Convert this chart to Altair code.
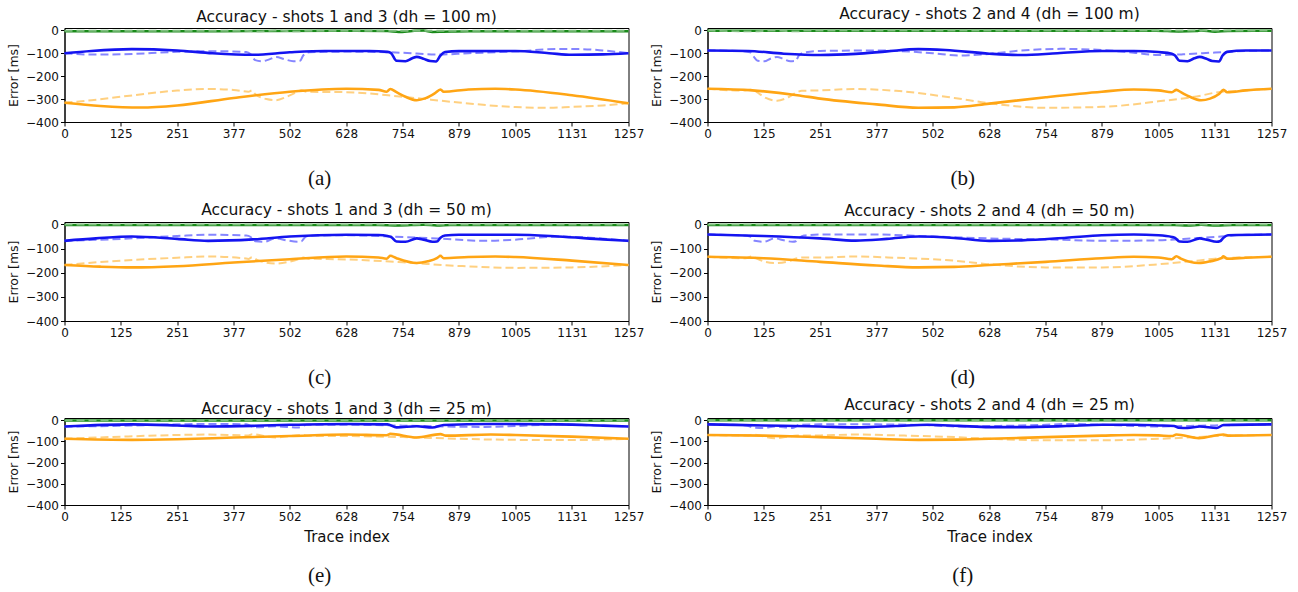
import altair as alt
import pandas as pd

X_TICKS = [0, 125, 251, 377, 502, 628, 754, 879, 1005, 1131, 1257]
Y_TICKS = [-400, -300, -200, -100, 0]

TITLES = [
    "Accuracy - shots 1 and 3 (dh = 100 m)",
    "Accuracy - shots 2 and 4 (dh = 100 m)",
    "Accuracy - shots 1 and 3 (dh = 50 m)",
    "Accuracy - shots 2 and 4 (dh = 50 m)",
    "Accuracy - shots 1 and 3 (dh = 25 m)",
    "Accuracy - shots 2 and 4 (dh = 25 m)",
]
CAPTIONS = ["(a)", "(b)", "(c)", "(d)", "(e)", "(f)"]

# ---- panel (a) ----
A_GREEN = [(0, -4), (300, -4), (420, -3), (600, -2), (720, -3), (745, -7), (775, -3), (800, -1), (820, -7), (845, -6), (900, -4), (1257, -4)]
A_GREEN_D = [(0, -2), (400, -2), (430, -5), (470, -1), (520, -5), (540, -2), (1257, -2)]
A_BLUE = [(0, -100), (60, -90), (150, -82), (251, -88), (330, -100), (420, -107), (502, -96), (580, -90), (680, -90), (720, -94), (728, -100), (740, -133), (760, -135), (775, -122), (785, -116), (800, -124), (815, -134), (828, -136), (838, -110), (848, -95), (879, -91), (1005, -90), (1080, -100), (1131, -107), (1200, -105), (1257, -100)]
A_BLUE_D = [(0, -100), (60, -106), (125, -105), (251, -94), (330, -91), (405, -95), (415, -105), (425, -130), (440, -135), (455, -128), (472, -116), (490, -126), (510, -135), (525, -133), (532, -110), (545, -96), (628, -93), (754, -98), (830, -106), (900, -100), (1005, -92), (1100, -82), (1150, -82), (1200, -88), (1257, -100)]
A_ORANGE = [(0, -316), (80, -330), (170, -337), (251, -328), (377, -295), (502, -268), (628, -255), (700, -260), (718, -268), (726, -256), (740, -270), (760, -290), (785, -305), (805, -296), (825, -275), (838, -258), (845, -268), (900, -258), (960, -255), (1005, -258), (1131, -283), (1257, -318)]
A_ORANGE_D = [(0, -316), (60, -305), (125, -290), (251, -263), (320, -256), (377, -260), (410, -268), (418, -262), (425, -278), (450, -300), (470, -305), (495, -290), (520, -268), (528, -262), (540, -268), (628, -270), (754, -290), (879, -315), (1005, -335), (1080, -338), (1131, -334), (1200, -328), (1257, -318)]

# ---- panel (b) ----
B_GREEN = [(0, -2), (500, -2), (1000, -2), (1050, -5), (1090, -3), (1100, -1), (1131, -6), (1160, -3), (1257, -2)]
B_GREEN_D = [(0, -1), (95, -5), (150, -1), (200, -5), (220, -1), (1257, -1)]
B_BLUE = [(0, -88), (90, -90), (170, -102), (251, -108), (330, -103), (400, -92), (470, -82), (530, -86), (628, -102), (700, -108), (780, -100), (879, -90), (950, -90), (1005, -95), (1035, -102), (1042, -110), (1052, -133), (1070, -135), (1085, -122), (1097, -116), (1112, -124), (1125, -134), (1140, -136), (1148, -110), (1158, -94), (1200, -88), (1257, -88)]
B_BLUE_D = [(0, -88), (70, -90), (95, -96), (102, -112), (112, -133), (127, -135), (140, -124), (155, -116), (170, -126), (185, -135), (197, -133), (203, -112), (215, -97), (251, -90), (377, -88), (502, -100), (560, -110), (628, -103), (700, -88), (790, -81), (879, -86), (950, -98), (1005, -108), (1060, -105), (1131, -97), (1200, -90), (1257, -88)]
B_ORANGE = [(0, -255), (100, -262), (200, -283), (251, -298), (377, -323), (470, -338), (550, -336), (628, -320), (754, -292), (879, -268), (950, -258), (1005, -262), (1035, -270), (1045, -260), (1055, -270), (1075, -290), (1100, -305), (1120, -298), (1140, -278), (1150, -260), (1158, -270), (1200, -262), (1257, -255)]
B_ORANGE_D = [(0, -255), (80, -263), (100, -258), (110, -270), (130, -295), (155, -307), (180, -292), (200, -270), (210, -264), (251, -262), (330, -256), (420, -264), (550, -295), (628, -318), (754, -338), (879, -334), (1005, -310), (1100, -285), (1131, -272), (1200, -262), (1257, -255)]

# ---- panel (c) ----
C_GREEN = [(0, -2), (700, -2), (745, -4), (800, -1), (830, -4), (860, -2), (1257, -2)]
C_GREEN_D = [(0, -1), (1257, -1)]
C_BLUE = [(0, -68), (70, -58), (150, -50), (251, -60), (320, -68), (420, -62), (502, -50), (628, -43), (700, -44), (720, -48), (728, -52), (740, -71), (760, -72), (785, -58), (800, -63), (820, -72), (830, -71), (838, -55), (848, -46), (879, -43), (1005, -43), (1100, -50), (1200, -62), (1257, -68)]
C_BLUE_D = [(0, -68), (125, -60), (251, -48), (320, -43), (405, -46), (415, -52), (425, -70), (445, -72), (470, -58), (495, -66), (520, -72), (528, -70), (535, -55), (545, -47), (628, -45), (754, -52), (830, -58), (937, -68), (1005, -63), (1100, -50), (1180, -56), (1257, -68)]
C_ORANGE = [(0, -168), (80, -175), (150, -178), (251, -173), (377, -158), (502, -144), (628, -133), (700, -137), (718, -142), (726, -130), (740, -140), (785, -160), (810, -153), (830, -140), (838, -130), (845, -140), (900, -135), (960, -133), (1005, -135), (1131, -150), (1257, -168)]
C_ORANGE_D = [(0, -168), (125, -150), (251, -138), (320, -133), (400, -140), (410, -143), (418, -136), (430, -148), (470, -162), (500, -155), (525, -142), (532, -137), (545, -142), (628, -145), (754, -157), (879, -172), (1005, -180), (1131, -178), (1257, -168)]

# ---- panel (d) ----
D_GREEN = [(0, -2), (1040, -2), (1070, -5), (1100, -1), (1135, -5), (1170, -2), (1257, -2)]
D_GREEN_D = [(0, -1), (1257, -1)]
D_BLUE = [(0, -42), (125, -48), (251, -58), (330, -67), (400, -60), (470, -50), (550, -56), (628, -68), (700, -66), (800, -55), (879, -45), (950, -42), (1005, -45), (1035, -52), (1042, -56), (1052, -71), (1070, -72), (1097, -58), (1112, -63), (1135, -72), (1142, -70), (1150, -55), (1160, -45), (1257, -42)]
D_BLUE_D = [(0, -42), (80, -46), (95, -50), (105, -68), (125, -72), (150, -58), (170, -66), (190, -72), (197, -70), (205, -55), (215, -46), (251, -42), (377, -42), (502, -50), (628, -58), (754, -62), (900, -68), (1005, -66), (1060, -60), (1131, -52), (1200, -43), (1257, -42)]
D_ORANGE = [(0, -134), (125, -140), (251, -155), (377, -170), (470, -178), (550, -176), (628, -168), (754, -155), (879, -140), (950, -134), (1005, -137), (1035, -144), (1045, -132), (1055, -142), (1095, -160), (1120, -153), (1145, -140), (1150, -132), (1158, -142), (1200, -138), (1257, -134)]
D_ORANGE_D = [(0, -134), (85, -140), (100, -132), (110, -142), (150, -160), (180, -153), (200, -140), (210, -137), (251, -137), (330, -133), (420, -138), (550, -150), (628, -165), (754, -178), (879, -178), (1005, -165), (1090, -150), (1131, -142), (1257, -134)]

# ---- panel (e) ----
E_GREEN = [(0, -2), (1257, -2)]
E_GREEN_D = [(0, -1), (1257, -1)]
E_BLUE = [(0, -30), (150, -20), (251, -25), (320, -30), (420, -27), (502, -22), (628, -18), (720, -20), (740, -34), (785, -29), (820, -35), (845, -23), (950, -18), (1100, -20), (1200, -26), (1257, -30)]
E_BLUE_D = [(0, -30), (125, -27), (251, -20), (320, -18), (405, -20), (425, -34), (470, -29), (520, -35), (540, -22), (628, -22), (754, -26), (850, -30), (937, -32), (1005, -28), (1100, -20), (1180, -25), (1257, -30)]
E_ORANGE = [(0, -88), (150, -93), (251, -90), (377, -82), (502, -75), (628, -68), (718, -71), (726, -65), (785, -82), (838, -66), (850, -73), (950, -68), (1005, -70), (1131, -78), (1257, -88)]
E_ORANGE_D = [(0, -88), (125, -78), (251, -70), (320, -68), (410, -72), (418, -67), (470, -82), (530, -70), (545, -74), (628, -75), (754, -80), (879, -88), (1005, -93), (1131, -94), (1257, -88)]

# ---- panel (f) ----
F_GREEN = [(0, -1), (1257, -1)]
F_GREEN_D = [(0, 0), (1257, 0)]
F_BLUE = [(0, -20), (125, -25), (251, -30), (330, -34), (420, -28), (490, -22), (560, -27), (628, -33), (700, -33), (800, -28), (879, -22), (950, -22), (1005, -25), (1040, -28), (1050, -36), (1070, -37), (1097, -30), (1135, -37), (1150, -23), (1257, -20)]
F_BLUE_D = [(0, -20), (85, -25), (105, -36), (125, -37), (150, -30), (190, -37), (205, -22), (251, -20), (377, -20), (502, -25), (560, -30), (628, -28), (754, -22), (800, -18), (879, -22), (1005, -30), (1060, -28), (1131, -25), (1257, -20)]
F_ORANGE = [(0, -70), (125, -73), (251, -80), (377, -88), (470, -93), (550, -92), (628, -88), (754, -80), (879, -73), (950, -70), (1005, -72), (1035, -75), (1045, -68), (1095, -85), (1150, -68), (1160, -73), (1257, -70)]
F_ORANGE_D = [(0, -70), (90, -73), (100, -68), (150, -85), (200, -73), (251, -72), (330, -68), (420, -72), (550, -80), (628, -88), (754, -95), (879, -95), (1005, -88), (1090, -80), (1131, -75), (1257, -70)]

PANELS = [
    dict(green=A_GREEN, green_d=A_GREEN_D, blue=A_BLUE, blue_d=A_BLUE_D, orange=A_ORANGE, orange_d=A_ORANGE_D),
    dict(green=B_GREEN, green_d=B_GREEN_D, blue=B_BLUE, blue_d=B_BLUE_D, orange=B_ORANGE, orange_d=B_ORANGE_D),
    dict(green=C_GREEN, green_d=C_GREEN_D, blue=C_BLUE, blue_d=C_BLUE_D, orange=C_ORANGE, orange_d=C_ORANGE_D),
    dict(green=D_GREEN, green_d=D_GREEN_D, blue=D_BLUE, blue_d=D_BLUE_D, orange=D_ORANGE, orange_d=D_ORANGE_D),
    dict(green=E_GREEN, green_d=E_GREEN_D, blue=E_BLUE, blue_d=E_BLUE_D, orange=E_ORANGE, orange_d=E_ORANGE_D),
    dict(green=F_GREEN, green_d=F_GREEN_D, blue=F_BLUE, blue_d=F_BLUE_D, orange=F_ORANGE, orange_d=F_ORANGE_D),
]

STYLES = {
    "green_d": dict(color="#7fbf7f", width=1.8, dash=[8, 4]),
    "green": dict(color="#1a8a1a", width=2.5, dash=None),
    "blue_d": dict(color="#8585ff", width=2.0, dash=[8, 4]),
    "blue": dict(color="#1414f0", width=2.6, dash=None),
    "orange_d": dict(color="#ffd080", width=2.0, dash=[8, 4]),
    "orange": dict(color="#ffa514", width=2.6, dash=None),
}
ORDER = ["green", "green_d", "blue_d", "orange_d", "blue", "orange"]

FONT = "DejaVu Sans"
PLOT_W = 564
# per-panel layout tweaks: plot height, title offset, title dy, caption offset
LAYOUT = [
    dict(h=94, off=2, dy=3, cap=28),
    dict(h=94, off=2, dy=0, cap=28),
    dict(h=99, off=0, dy=0, cap=28),
    dict(h=99, off=0, dy=1, cap=28),
    dict(h=87, off=0, dy=3, cap=20),
    dict(h=87, off=0, dy=-1, cap=20),
]


def make_panel(i):
    series = PANELS[i]
    lay_cfg = LAYOUT[i]
    bottom = i >= 4
    layers = []
    for key in ORDER:
        df = pd.DataFrame(series[key], columns=["trace", "error"])
        st = STYLES[key]
        mk = dict(color=st["color"], strokeWidth=st["width"], interpolate="monotone")
        if st["dash"]:
            mk["strokeDash"] = st["dash"]
        xaxis = alt.Axis(values=X_TICKS, format="d", labelFlush=False, labelOverlap=False,
                         grid=False, titleFontSize=15, titlePadding=7, titleFontWeight="normal")
        yaxis = alt.Axis(values=Y_TICKS, format="d", grid=False, titleFontSize=12.5,
                         titlePadding=5, titleFontWeight="normal")
        layers.append(
            alt.Chart(df).mark_line(**mk).encode(
                x=alt.X("trace:Q", scale=alt.Scale(domain=[0, 1257], nice=False, zero=False),
                        axis=xaxis, title="Trace index" if bottom else None),
                y=alt.Y("error:Q", scale=alt.Scale(domain=[-400, 10], nice=False),
                        axis=yaxis, title="Error [ms]"),
            )
        )
    lay = alt.layer(*layers).properties(
        width=PLOT_W, height=lay_cfg["h"],
        title=alt.TitleParams(TITLES[i], font=FONT, fontSize=15.5, fontWeight="normal",
                              anchor="middle", frame="group", offset=lay_cfg["off"],
                              dy=lay_cfg["dy"], color="#111"),
    )
    return alt.vconcat(lay, title=alt.TitleParams(CAPTIONS[i], orient="bottom", anchor="middle",
                                                  frame="bounds", font="Liberation Serif",
                                                  fontSize=21, fontWeight="normal", dx=-6,
                                                  offset=lay_cfg["cap"], color="#111"))


rows = [alt.hconcat(make_panel(2 * r), make_panel(2 * r + 1), spacing=5) for r in range(3)]
top_rows = alt.vconcat(rows[0], rows[1], spacing=13)
chart = alt.vconcat(top_rows, rows[2], spacing=9).properties(
    padding={"left": 6.5, "top": 6, "right": 5, "bottom": 3}, background="white"
).configure_view(stroke="black", strokeWidth=1).configure_axis(
    grid=False, labelFont=FONT, labelFontSize=12, labelColor="#111",
    titleFont=FONT, titleFontWeight="normal", titleColor="#111",
    tickColor="black", tickSize=4, domainColor="black", labelPadding=2,
)

chart.save("out.html", embed_options={"renderer": "svg", "actions": False})
